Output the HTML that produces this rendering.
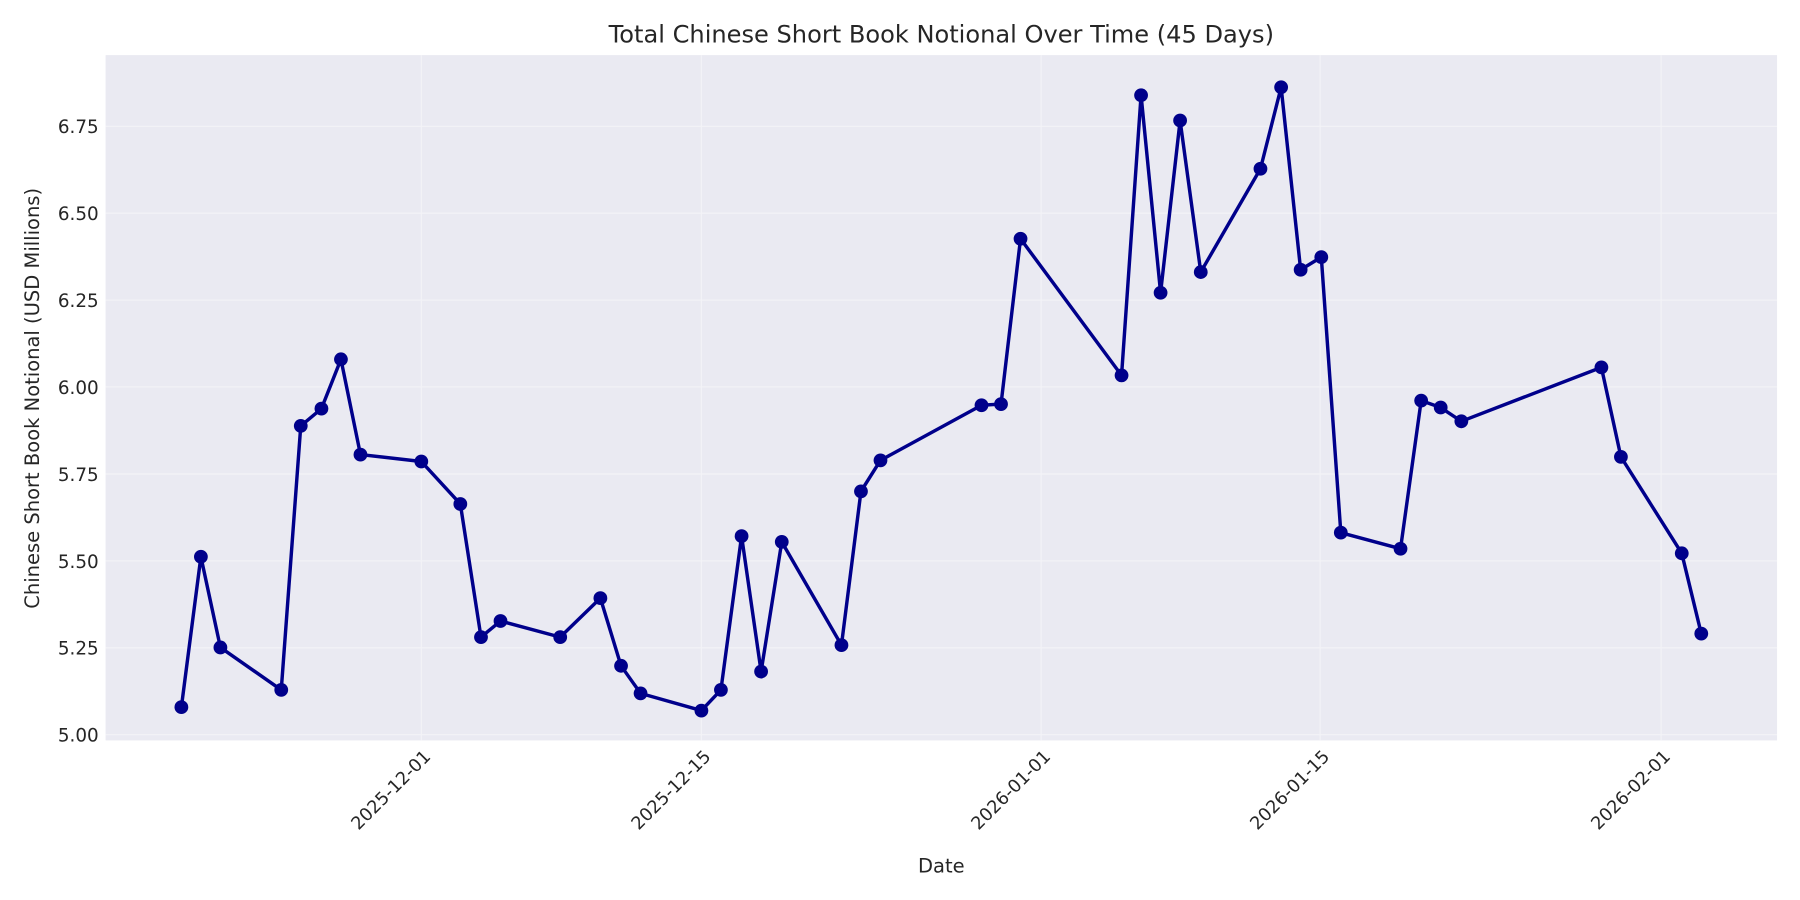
<!DOCTYPE html>
<html><head><meta charset="utf-8"><style>html,body{margin:0;padding:0;background:#fff}svg{display:block}</style></head>
<body>
<svg width="1800" height="900" viewBox="0 0 1568 784" xmlns="http://www.w3.org/2000/svg" font-family="'DejaVu Sans','Liberation Sans',sans-serif">
<rect width="1568" height="784" fill="#fff"/>
<rect x="92" y="48" width="1456" height="597" fill="#eaeaf2"/>
<g stroke="#f3f3f7" stroke-width="1">
<line x1="92" x2="1548" y1="640" y2="640"/><line x1="92" x2="1548" y1="564.3" y2="564.3"/>
<line x1="92" x2="1548" y1="488.6" y2="488.6"/><line x1="92" x2="1548" y1="412.9" y2="412.9"/>
<line x1="92" x2="1548" y1="337.1" y2="337.1"/><line x1="92" x2="1548" y1="261.4" y2="261.4"/>
<line x1="92" x2="1548" y1="185.7" y2="185.7"/><line x1="92" x2="1548" y1="110" y2="110"/>
<line x1="367" x2="367" y1="48" y2="645"/><line x1="611" x2="611" y1="48" y2="645"/>
<line x1="907" x2="907" y1="48" y2="645"/><line x1="1150" x2="1150" y1="48" y2="645"/>
<line x1="1447" x2="1447" y1="48" y2="645"/>
</g>
<g font-size="16" fill="#262626" text-anchor="end">
<text x="86" y="646">5.00</text><text x="86" y="570.3">5.25</text><text x="86" y="494.6">5.50</text>
<text x="86" y="418.9">5.75</text><text x="86" y="343.1">6.00</text><text x="86" y="267.4">6.25</text>
<text x="86" y="191.7">6.50</text><text x="86" y="116">6.75</text>
</g>
<g font-size="15.5" fill="#262626" text-anchor="end">
<text transform="translate(376,660) rotate(-45)">2025-12-01</text>
<text transform="translate(620,660) rotate(-45)">2025-12-15</text>
<text transform="translate(916,660) rotate(-45)">2026-01-01</text>
<text transform="translate(1159,660) rotate(-45)">2026-01-15</text>
<text transform="translate(1456,660) rotate(-45)">2026-02-01</text>
</g>
<text x="820" y="37" font-size="21" fill="#262626" text-anchor="middle">Total Chinese Short Book Notional Over Time (45 Days)</text>
<text x="820" y="760" font-size="17" fill="#262626" text-anchor="middle">Date</text>
<text transform="translate(34,347) rotate(-90)" font-size="17" fill="#262626" text-anchor="middle">Chinese Short Book Notional (USD Millions)</text>
<polyline fill="none" stroke="#00008b" stroke-width="3" stroke-linejoin="round" points="158,616 175,485 192,564 245,601 262,371 280,356 297,313 314,396 367,402 401,439 419,555 436,541 488,555 523,521 541,580 558,604 611,619 628,601 646,467 663,585 681,472 733,562 750,428 767,401 855,353 872,352 889,208 977,327 994,83 1011,255 1028,105 1046,237 1098,147 1116,76 1133,235 1151,224 1168,464 1220,478 1238,349 1255,355 1273,367 1395,320 1412,398 1465,482 1482,552"/>
<g fill="#00008b">
<circle cx="158" cy="616" r="6"/><circle cx="175" cy="485" r="6"/><circle cx="192" cy="564" r="6"/><circle cx="245" cy="601" r="6"/><circle cx="262" cy="371" r="6"/><circle cx="280" cy="356" r="6"/><circle cx="297" cy="313" r="6"/><circle cx="314" cy="396" r="6"/><circle cx="367" cy="402" r="6"/><circle cx="401" cy="439" r="6"/><circle cx="419" cy="555" r="6"/><circle cx="436" cy="541" r="6"/><circle cx="488" cy="555" r="6"/><circle cx="523" cy="521" r="6"/><circle cx="541" cy="580" r="6"/><circle cx="558" cy="604" r="6"/><circle cx="611" cy="619" r="6"/><circle cx="628" cy="601" r="6"/><circle cx="646" cy="467" r="6"/><circle cx="663" cy="585" r="6"/><circle cx="681" cy="472" r="6"/><circle cx="733" cy="562" r="6"/><circle cx="750" cy="428" r="6"/><circle cx="767" cy="401" r="6"/><circle cx="855" cy="353" r="6"/><circle cx="872" cy="352" r="6"/><circle cx="889" cy="208" r="6"/><circle cx="977" cy="327" r="6"/><circle cx="994" cy="83" r="6"/><circle cx="1011" cy="255" r="6"/><circle cx="1028" cy="105" r="6"/><circle cx="1046" cy="237" r="6"/><circle cx="1098" cy="147" r="6"/><circle cx="1116" cy="76" r="6"/><circle cx="1133" cy="235" r="6"/><circle cx="1151" cy="224" r="6"/><circle cx="1168" cy="464" r="6"/><circle cx="1220" cy="478" r="6"/><circle cx="1238" cy="349" r="6"/><circle cx="1255" cy="355" r="6"/><circle cx="1273" cy="367" r="6"/><circle cx="1395" cy="320" r="6"/><circle cx="1412" cy="398" r="6"/><circle cx="1465" cy="482" r="6"/><circle cx="1482" cy="552" r="6"/>
</g>
</svg>
</body></html>
